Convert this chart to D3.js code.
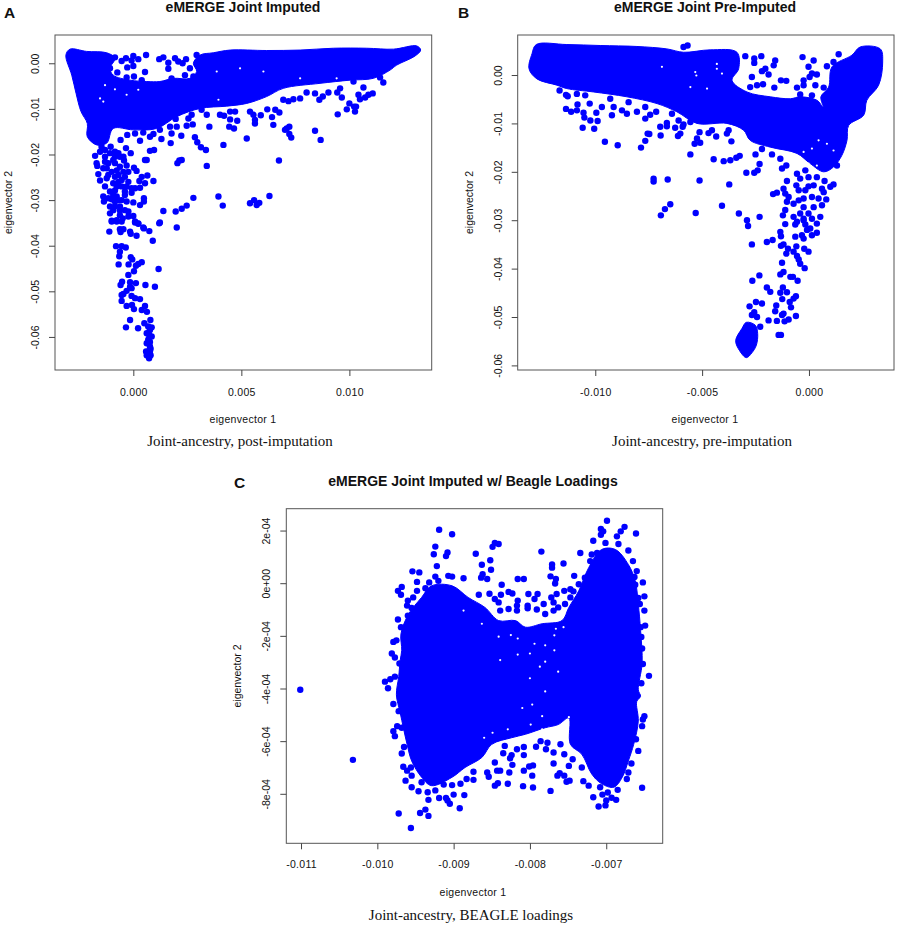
<!DOCTYPE html>
<html>
<head>
<meta charset="utf-8">
<style>
  html, body { margin: 0; padding: 0; background: #fff; }
  svg { display: block; }
  text { fill: #111; font-family: "Liberation Sans", Arial, sans-serif; }
</style>
<script src="https://cdn.jsdelivr.net/npm/d3@7"></script>
</head>
<body>
<svg id="chart" width="897" height="925"></svg>
<script>
// All values. Panel A and B in units of 1e-3, panel C x in 1e-3, y in 1e-4.
// The cores of the clouds are too overplotted to read single points, so each core
// is kept as an outline (its extent in data units), the readable points go on top,
// and the gaps lists are the small white specks seen inside the cores.

const xTicksA = [0, 5, 10];
const xLabelsA = ['0.000', '0.005', '0.010'];
const yTicksA = [0, -10, -20, -30, -40, -50, -60];
const yLabelsA = ['0.00', '-0.01', '-0.02', '-0.03', '-0.04', '-0.05', '-0.06'];
const coreA = [[-3.12,1.8],[-2.93,3.1],[-2.16,2.6],[-1.23,2.3],[-0.85,1.1],[-1.08,-1.1],[-0.93,-2.6],[-0.15,-3.7],[0.62,-4],[1.23,-4],[1.85,-3.3],[2.62,-3.3],[2.93,-1.8],[2.78,0],[3.09,1.8],[3.7,2.3],[4.48,2.9],[6.17,2.8],[7.72,2.9],[9.26,3.3],[10.8,3.3],[12.04,3.1],[13.12,3.8],[13.3,2.9],[13.04,1.6],[12.19,-0.4],[11.88,-1.5],[11.11,-3.3],[10.03,-3.7],[8.64,-4.4],[6.94,-5.5],[6.17,-7.3],[5.25,-8.8],[4.32,-9.4],[3.09,-9.9],[2.01,-11.7],[1.08,-14.3],[0,-14.6],[-0.93,-14.3],[-1.23,-17.5],[-1.7,-17.9],[-2.13,-16.1],[-2.13,-13.2],[-2.42,-10.6],[-2.65,-6.6],[-2.85,-2.6]];
const gapsA = [[3.94,-8],[4.94,-1.1],[6.02,-1.8],[3.86,-1.8],[-1.31,-4.8],[-0.85,-5.7],[-0.31,-6.9],[0.23,-5.8],[-1.54,-7.7],[-1.39,-8.4],[7.72,-3.3],[9.41,-3.3]];
const pointsA = [[-0.85,1.3],[-0.54,0.5],[-0.34,1.1],[0,1.6],[-0.08,0.6],[0.23,0.9],[0.59,1.8],[1.2,0.9],[1.39,1.3],[1.62,0.1],[1.62,-1.2],[1.93,1.1],[2.08,0.4],[2.28,0],[2.44,0.9],[2.62,-1.1],[2.93,1.8],[-1.08,-1.1],[-0.74,-2],[-0.28,-0.9],[0,-0.6],[0.54,-1.9],[-0.31,-3.1],[0.03,-2.9],[0.39,-3.7],[1.77,-3.3],[2.39,-2.6],[2.78,-2.9],
[1.96,-12.2],[2.55,-12.1],[2.7,-11.3],[1.7,-13.9],[2.01,-13.9],[2.47,-13.7],[2.75,-13.4],[3.52,-13.9],[3.4,-11.3],[3.16,-10.2],[4.01,-11.3],[4.2,-11.5],[4.48,-10.6],[4.71,-10.6],[4.48,-12.3],[4.81,-12.6],[4.44,-13.9],[4.66,-14.3],[5.25,-16.5],[5.4,-10.6],[5.56,-11.3],[5.63,-12.4],[5.63,-13.2],[5.9,-11.4],[6.2,-10.1],[6.42,-11.8],[6.48,-13.5],[6.57,-10.2],[6.76,-10.8],[6.94,-8],[7.18,-8.3],[7.41,-7.9],[7.72,-7.7],[8.02,-6.4],[8.41,-6.6],[8.61,-8],[8.77,-7.3],[9.03,-6.4],[9.44,-6.4],[9.65,-7.5],[9.46,-11.2],[9.88,-10.1],[10,-8.8],[10.22,-9.5],[10.31,-9.5],[10.26,-10.6],[10.42,-6.9],[10.65,-5.3],[10.49,-7.9],[10.73,-7.5],[10.88,-6.9],[11.08,-6.6],[9.57,-5.5],[10.19,-4],[11.42,-3.1],[11.57,-4.2],
[7.1,-14.3],[7.22,-13.9],[7.02,-14.6],[7.22,-15.5],[7.31,-16.3],[8.41,-14.8],[8.67,-16.8],[2.85,-16.2],[2.96,-17.3],[3.13,-18.4],[3.36,-19],[4.17,-17.9],[3.4,-22.5],[6.74,-21.3],[2.24,-21.2],[2.13,-21.3],[2.04,-21.9],[0.62,-21.2],[0.54,-21.2],[0.96,-19],[0.77,-19.2],[1.77,-15.4],[1.73,-17.5],[2.22,-15.9],[1.3,-16.6],[1.23,-14.6],[0.93,-15.5],[0.77,-16.1],[0.46,-15.2],[0.08,-15.4],[0.31,-17],[-0.28,-15.7],[-0.59,-16.8],[-0.34,-18.6],[-0.12,-19.7],
[-1.7,-21.9],[-1.67,-22.5],[-1.62,-24.3],[-1.54,-25.7],[-1.31,-27],[-1.23,-23],[-1.16,-21.9],[-0.93,-21.2],[-0.69,-19.7],[-1.05,-18.3],[-0.85,-19.4],[-1.77,-20.3],[-1.54,-19.4],[-1.31,-20.5],[-1.16,-24.5],[-0.85,-24.9],[-0.77,-23.5],[-0.62,-22.7],[-0.43,-21.3],[-0.31,-22.4],[-0.46,-20.5],[-0.85,-21.9],[-1.23,-25.2],[-0.93,-26.3],[-0.69,-26],[-0.39,-24.9],[-0.23,-26],[-0.54,-27],[-0.31,-27],[0.03,-22.9],[0.15,-23.6],[0.39,-24.9],[0.65,-24.6],[0.28,-25.8],[0.93,-25.8],[0.54,-26.3],[0.31,-27.3],[0.08,-27.4],[-0.08,-28.4],[-0.39,-28.9],[-0.85,-27.9],[-1.08,-28.1],[-1.39,-29.2],[-1.36,-30.3],[-1,-29.8],[-0.85,-30.3],[-1.08,-31.4],[-0.93,-32.2],[-0.62,-31.4],[-0.69,-30],[-0.31,-30.3],[0,-30.5],[0.31,-31.1],[0.49,-29.6],[0.49,-30.3],[-0.23,-32.5],[-0.62,-33.3],[-0.77,-34.4],[-1,-34.5],[-0.49,-34],[0,-33.5],[0.08,-34.7],[0.23,-35.2],[0.46,-36],[1.23,-34.9],[2.01,-36],[1.39,-32.4],[1.96,-32.5],[2.24,-31.9],[2.47,-31.2],[2.78,-29.5],[3.94,-29.2],[4.14,-31.2],[5.4,-30.7],[5.59,-30],[5.71,-31.1],[5.83,-30.6],[6.3,-29.1],
[-1.47,-18.3],[-1.31,-19],[-1.08,-19.7],[-0.85,-20.5],[-0.62,-20.5],[-1.31,-21.6],[-1.39,-23],[-1,-23.8],[-0.69,-24.5],[-0.46,-23.8],[-0.23,-23.8],[-0.54,-25.6],[-0.77,-27],[-0.39,-28.1],[-0.08,-27.4],[-0.93,-28.9],[-1.16,-29.6],[-0.77,-29.2],[-0.54,-30],[-0.85,-31.4],[-0.39,-32.2],[-0.62,-32.3],[-1.08,-32.9],[-0.23,-33.6],
[-1.11,-36.9],[-1,-34.7],[-0.77,-34.7],[-0.54,-34.7],[-0.62,-36.4],[-0.46,-36.4],[-0.59,-37],[-0.15,-36.9],[-0.12,-37.4],[0.08,-34.9],[0.23,-35.1],[0.15,-37.8],[0.49,-36.2],[0.74,-36.8],[0.9,-38.9],[1.2,-35.1],[-0.8,-40.1],[-0.54,-40.1],[-0.35,-40.4],[-0.62,-41.3],[-0.65,-42.3],[-0.12,-42.5],[-0.05,-43],[-0.68,-44.1],[-0.22,-44.1],[0.39,-43.6],[0.23,-44],[0.12,-44.4],[0.03,-45.6],[-0.23,-46.4],[1.17,-45.1],[-0.52,-47.9],[-0.59,-48.6],[-0.15,-48],[-0.15,-49],[0.12,-48.2],[0.56,-48.6],[1,-49],[-0.08,-49.3],[-0.31,-49.9],[-0.46,-50.6],[-0.54,-50.8],[-0.08,-51],[0.08,-51.5],[0.31,-51.7],[-0.54,-52.1],[-0.31,-53.2],[-0.06,-53],[0.03,-53.9],[0.39,-54.1],[0.54,-53.2],[0.63,-54.5],[-0.15,-56.3],[-0.34,-57.9],[0.22,-58.1],[0.79,-56.3],[0.51,-57],[0.69,-57.7],[0.85,-57.9],[0.62,-59.2],[0.85,-59.9],[0.77,-58.5],[0.62,-61.4],[0.77,-62.1],[0.69,-63.2],[0.62,-64],[0.8,-64],[0.73,-64.7],[0.77,-61.1],[0.77,-63.2],[0.59,-63.2],[0.8,-62.6],[0.69,-60.6],[0.73,-59.5]];

const xTicksB = [-10, -5, 0];
const xLabelsB = ['-0.010', '-0.005', '0.000'];
const yTicksB = [0, -10, -20, -30, -40, -50, -60];
const yLabelsB = ['0.00', '-0.01', '-0.02', '-0.03', '-0.04', '-0.05', '-0.06'];
const coreB = [[-13.1,1.3],[-12.96,4.4],[-12.76,6.3],[-11.33,6.3],[-9.77,6.1],[-8.05,5.9],[-6.65,5.4],[-5.87,4.7],[-4.62,5.2],[-3.37,4.7],[-3.29,1.3],[-3.6,-1.1],[-2.9,-3.5],[-1.81,-4.5],[-0.87,-4.9],[-0.41,-4.5],[0.37,-5.2],[0.66,-6.6],[0.56,-4.5],[0.92,-2.5],[1.08,1.7],[2.01,4.1],[2.4,5.8],[3.34,5.4],[3.45,2.7],[3.26,-2.1],[2.71,-5.2],[2.56,-8.3],[1.86,-10.4],[1.78,-13.5],[1.54,-16.6],[1.15,-19],[0.69,-20],[0.06,-18.3],[-0.56,-16.2],[-1.81,-14.9],[-2.75,-13.5],[-3.06,-11.4],[-3.84,-10],[-5.24,-10],[-6.18,-7.6],[-7.11,-5.9],[-8.52,-4.5],[-10.08,-3.5],[-11.33,-2.8],[-11.79,-2.1],[-12.73,-0.8]];
const coreB2 = [[-2.93,-51.1],[-2.51,-51.7],[-2.4,-53.4],[-2.46,-55.8],[-2.67,-57.4],[-2.93,-58.4],[-3.24,-57],[-3.43,-54.9],[-3.14,-52.4]];
const gapsB = [[-5.32,0.6],[-5.27,-0.1],[-4.31,2.3],[-4.31,1.3],[-5.55,-2.5],[-4.77,-2.8],[-6.88,1.7],[-4.07,0.3],[-0.25,-15.9],[0.14,-15.2],[0.45,-13.5],[0.84,-14.2],[1.15,-15.6],[0.37,-18.7],[-0.02,-18.3]];
const pointsB = [[-5.87,5.8],[-5.68,6.1],[-2.98,3.9],[-2.56,3.4],[-2.23,3.9],[-2.56,2.5],[-2.04,1.3],[-1.58,3],[-1.65,2],[-2.2,0.8],[-1.89,0.1],[-2.67,-0.4],[-2.43,-2.1],[-2.15,-1.9],[-1.62,-2.6],[-2.75,-2.5],[-1.31,-1.1],[-1.06,-1.2],[-0.56,-2.6],[-0.3,3.7],[0.22,3],[-0.02,1.7],[0.03,-0.4],[0.37,0.1],[-0.25,-2.1],[0.3,-2.1],[0.84,1.8],[1.39,4.3],[1.15,2.7],[-0.25,-1.1],[0.14,0.3],[0.69,-2.6],[-0.41,-4],[0.14,-4.2],
[-11.67,-3.2],[-11.37,-4.1],[-11.29,-4.4],[-10.86,-3.9],[-10.47,-4.2],[-11.37,-7],[-11.13,-7.6],[-10.83,-6.1],[-10.86,-7.3],[-10.55,-7.8],[-10.51,-8.8],[-10.23,-9.4],[-10.59,-10.9],[-10.05,-11.1],[-9.89,-9.5],[-9.95,-7.8],[-10.26,-5.9],[-9.69,-6.6],[-9.3,-4.9],[-9.14,-6.6],[-9.22,-8.3],[-8.75,-7.3],[-8.52,-8],[-8.44,-5.6],[-8.05,-7.6],[-7.66,-6.6],[-7.15,-7.6],[-7.43,-8.2],[-7.66,-9],[-6.96,-10.7],[-6.65,-9.9],[-6.65,-10.6],[-6.94,-12.5],[-7.55,-12.1],[-7.66,-13.6],[-7.47,-12.2],[-7.86,-15],[-8.95,-14.5],[-9.55,-13.8],[-6.26,-10.9],[-5.91,-10.7],[-5.87,-10.2],[-6.02,-12.1],[-6.13,-12.6],[-6.41,-8],[-6.1,-9.4],[-5.55,-9.7],
[-5.24,-13.1],[-5.35,-14.2],[-5.09,-14],[-5.12,-11.8],[-4.7,-12],[-4.54,-11.4],[-4.34,-12.7],[-3.84,-12.1],[-3.63,-13.7],[-3.76,-11.4],[-5.55,-16.4],[-4.46,-17.4],[-3.99,-17.8],[-3.68,-17.6],[-3.4,-17.1],[-3.24,-16.7],[-2.5,-16.4],[-2.31,-18.4],[-2.93,-20.2],[-2.56,-20.2],[-2.4,-19.7],[-1.34,-17.3],[-1.26,-19.3],[-1.06,-18.7],[-1.73,-16.4],[-2.2,-15.3],
[-7.27,-21.4],[-7.27,-22],[-6.61,-21.6],[-5.12,-21.8],[-3.73,-22.6],[-6.49,-26.7],[-6.74,-27.7],[-6.93,-29],[-5.3,-28.5],[-4.07,-27],[-3.28,-28.6],[-2.9,-30],[-2.31,-29.3],
[-1.03,-21.9],[-1.68,-24.6],[-1.5,-24.3],[-1.19,-23.5],[-1.11,-24.5],[-0.95,-25.2],[-1.03,-26.2],[-0.56,-20.4],[-0.41,-21.4],[-0.02,-21.1],[0.37,-21.1],[-0.59,-22.8],[-0.48,-23.8],[-0.02,-23],[0.22,-22.8],[-0.17,-23.8],[0.61,-23.5],[0.73,-21.9],[0.69,-24.2],[1.15,-22.6],[1,-23.1],[0.81,-25.7],[0.61,-26.9],[0.45,-25.5],[0.14,-25.2],[-0.25,-25.5],[-0.48,-25.9],[-0.72,-26.6],[-0.25,-27.3],[0.22,-27.3],[-0.02,-28.6],[-0.41,-28.6],[-1.11,-27.9],[-1.22,-29],[-0.72,-29.3],[-0.25,-29.7],[0.14,-29.7],[0.53,-29.3],[-0.64,-30.9],[-0.17,-30.9],[0.37,-30.7],[-1.11,-30.8],[-0.17,-19.7],[1.31,-18.7],
[-2.85,-31.2],[-2.67,-35],[-1.97,-34.5],[-1.7,-34.1],[-1.34,-32.4],[-1.31,-33.3],[-1.31,-35.3],[-1.19,-35],[-0.98,-35.9],[-1.06,-36.9],[-0.72,-36.5],[-0.59,-35.4],[-0.56,-37.4],[-0.48,-38.1],[-0.41,-39],[-0.2,-39.9],[-0.22,-35.9],[-0.02,-36.5],[-1.26,-38.8],[-1.19,-40.7],[-1.34,-41.2],[-0.87,-41.7],[-0.75,-41.7],[-0.53,-42.5],[-2.32,-41.4],[-2.65,-42.5],[-1.97,-43.9],[-1.81,-44.8],[-1.34,-45],[-1.22,-43.9],[-1.03,-44.9],[-1.25,-46.3],[-0.61,-45.7],[-0.72,-46.2],[-0.9,-46.9],[-0.84,-48],[-2.48,-46.9],[-2.2,-47.2],[-2.78,-47.8],[-1.53,-47.6],[-1.58,-48.8],[-1.19,-49.3],[-1.26,-49.6],[-0.61,-49.8],[-0.95,-50.5],[-1.14,-50.9],[-1.5,-50.8],[-1.89,-50.7],[-1.42,-53.7],[-1.31,-53.7],[-2.28,-52],[-2.43,-50],[-2.67,-49.6],[-2.56,-49],[-0.64,-33.4],[-0.33,-33.1],[-0.09,-32],[0.14,-33.1],[0.37,-32.6],[-0.56,-30.3],[-0.25,-30],[0.06,-31.7],[-0.25,-33.8]];

const xTicksC = [-11, -10, -9, -8, -7];
const xLabelsC = ['-0.011', '-0.010', '-0.009', '-0.008', '-0.007'];
const yTicksC = [2, 0, -2, -4, -6, -8];
const yLabelsC = ['2e-04', '0e+00', '-2e-04', '-4e-04', '-6e-04', '-8e-04'];
const coreC = [[-9.7,-2.92],[-9.68,-2.55],[-9.69,-1.92],[-9.59,-1.17],[-9.42,-0.54],[-9.29,-0.1],[-9.02,-0.1],[-8.81,-0.54],[-8.59,-0.92],[-8.41,-1.42],[-8.19,-1.42],[-8.06,-1.67],[-7.84,-1.54],[-7.58,-1.42],[-7.49,-0.92],[-7.36,-0.29],[-7.23,0.59],[-7.06,1.28],[-6.88,1.28],[-6.71,0.71],[-6.62,0.09],[-6.58,-0.79],[-6.55,-1.79],[-6.53,-3.05],[-6.58,-4.05],[-6.55,-4.3],[-6.6,-4.49],[-6.58,-5.24],[-6.64,-6.12],[-6.71,-6.75],[-6.79,-7.37],[-6.9,-7.75],[-7.06,-7.62],[-7.19,-7.25],[-7.32,-6.5],[-7.47,-6.12],[-7.49,-5.12],[-7.63,-5.37],[-7.8,-5.49],[-8.06,-5.74],[-8.24,-5.87],[-8.5,-6.12],[-8.63,-6.62],[-8.85,-7],[-9.02,-7.37],[-9.29,-7.69],[-9.42,-7.37],[-9.55,-6.75],[-9.61,-6.12],[-9.7,-4.93],[-9.75,-4.24],[-9.72,-3.55]];
const gapsC = [[-8.25,-1.97],[-8.16,-2.1],[-8.41,-2.03],[-7.94,-2.3],[-7.8,-2.36],[-7.68,-2.55],[-8.16,-2.71],[-8.0,-2.67],[-8.39,-2.92],[-7.8,-2.98],[-7.63,-3.36],[-8.0,-3.61],[-7.87,-3.17],[-7.56,-1.67],[-7.68,-1.98],[-8.87,-1.04],[-8.63,-1.54],[-7.66,-1.73],[-7.8,-4.11],[-8.1,-4.74],[-7.97,-4.61],[-7.84,-5.05],[-7.49,-5.09],[-7.99,-5.37],[-8.29,-5.55],[-8.49,-5.68],[-8.6,-5.87],[-7.63,-5.62],[-7.84,-5.55]];
const pointsC = [[-9.19,2.03],[-9.02,1.86],[-9.24,1.39],[-9.26,1.1],[-9.1,1.03],[-9.08,1.17],[-9.22,0.65],[-9.54,0.45],[-9.45,0.41],[-9.24,0.25],[-9.07,0.28],[-9.02,0.25],[-8.87,0.19],[-9.2,0.09],[-9.48,0.05],[-9.32,0.03],[-9.48,-0.29],[-9.37,-0.19],[-9.73,-0.29],[-9.68,-0.14],[-9.69,-0.44],[-9.6,-0.66],[-9.53,-0.54],[-9.61,-0.85],[-9.55,-0.94],[-9.6,-1.23],[-9.73,-1.38],[-9.69,-1.67],[-9.79,-2.23],[-9.75,-2.17],[-9.81,-2.67],[-9.77,-2.82],[-9.71,-3.05],[-9.9,-3.74],[-9.83,-3.65],[-9.77,-3.55],[-9.86,-3.99],
[-8.71,1.12],[-8.63,0.7],[-8.52,0.87],[-8.51,0.51],[-8.62,0.34],[-8.64,0.21],[-8.56,0.16],[-8.49,1.38],[-8.46,1.53],[-8.41,1.49],[-8.37,-0.06],[-8.67,-0.44],[-8.53,-0.4],[-8.38,-0.44],[-8.28,-0.33],[-8.23,-0.39],[-8.46,-0.6],[-8.41,-0.73],[-8.28,-0.98],[-8.39,-1.04],[-8.16,-0.66],[-8.17,-0.85],[-8.17,-1.04],[-8.16,0.16],[-8.08,0.16],[-7.85,1.2],[-8.02,-0.41],[-8.03,-0.85],[-8.03,-0.95],[-7.9,-0.41],[-7.94,-0.6],[-7.91,-1],[-7.82,-0.79],[-7.8,-1.17],
[-7.71,0.71],[-7.71,0.59],[-7.56,0.75],[-7.73,0.26],[-7.66,0.16],[-7.67,-0.01],[-7.42,0.28],[-7.34,1.15],[-7.55,-0.29],[-7.47,-0.23],[-7.43,-0.31],[-7.47,-0.54],[-7.65,-0.41],[-7.72,-0.54],[-7.69,-0.73],[-7.54,-0.79],[-7.63,-0.92],[-7.69,-1.04],[-7.36,-0.04],[-7.28,0.21],[-7.21,0.84],[-7.17,1.61],[-7.07,2.06],[-7.04,1.97],[-7.07,1.84],[-6.99,2.37],[-6.76,2.14],[-6.81,1.97],[-6.86,1.78],[-6.61,1.89],[-6.84,1.49],[-6.71,1.24],[-7.19,1.09],[-7.12,1.15],[-7.01,1.53],[-6.65,0.84],[-6.6,0.46],[-6.63,0.24],[-6.52,0.03],[-6.62,-0.06],[-6.5,-0.5],[-6.58,-0.56],[-6.5,-1.04],[-6.56,-0.79],[-6.49,-1.61],[-6.55,-1.67],[-6.54,-2.04],[-6.53,-2.48],[-6.52,-3.07],[-6.44,-3.52],[-6.54,-3.8],
[-11.01,-4.05],[-10.32,-6.71],
[-9.79,-4.59],[-9.72,-4.86],[-9.79,-5.62],[-9.74,-5.43],[-9.77,-5.81],[-9.68,-5.49],[-9.65,-6.22],[-9.68,-6.47],[-9.66,-6.97],[-9.61,-7.12],[-9.63,-7.5],[-9.55,-7.75],[-9.55,-7.31],[-9.56,-7],[-9.46,-7.9],[-9.42,-7.56],[-9.34,-7.94],[-9.33,-8.23],[-9.24,-7.87],[-9.19,-8.16],[-9.13,-7.65],[-9.1,-8.16],[-9.08,-8.25],[-9.05,-8.38],[-9,-8.03],[-9.02,-7.67],[-8.91,-7.62],[-8.86,-8.05],[-8.92,-8.55],[-8.83,-7.44],[-8.74,-7.16],[-8.74,-7.47],[-9.72,-8.75],[-9.44,-8.73],[-9.37,-8.6],[-9.33,-8.84],[-9.56,-9.3],
[-8.56,-7.19],[-8.54,-7.35],[-8.43,-7.12],[-8.39,-7.12],[-8.46,-7.69],[-8.42,-7.6],[-8.29,-7.62],[-8.27,-7.19],[-8.09,-7.71],[-7.96,-7.76],[-8.08,-7.12],[-8.01,-6.96],[-7.96,-6.92],[-7.97,-7.31],[-7.73,-7.89],[-8.46,-6.81],[-8.35,-6.46],[-8.26,-6.65],[-8.24,-6.53],[-8.23,-6.9],[-8.33,-6.18],[-8.17,-6.31],[-8.08,-6.22],[-8.08,-6.53],[-7.92,-6.21],[-7.86,-6],[-7.79,-6.31],[-7.77,-6.06],[-7.69,-6.43],[-7.69,-6.85],[-7.64,-7.31],[-7.61,-7.22],[-7.55,-7.31],[-7.52,-7.54],[-7.48,-7.5],[-7.49,-6.94],[-7.44,-6.69],[-7.55,-6.5],[-7.6,-6.12],[-7.3,-7.52],[-7.23,-7.69],[-7.17,-8.13],[-7.1,-8.48],[-7.05,-8.03],[-7.01,-8.44],[-6.98,-7.95],[-7,-8.25],[-6.93,-8.15],[-6.87,-8.23],[-6.85,-7.85],[-6.73,-7.44],[-6.71,-7.19],[-6.67,-6.85],[-6.58,-6.37],[-6.61,-5.93],[-6.53,-7.77],[-6.53,-5.43],[-6.5,-5.05],[-6.52,-5.18],[-7.32,-7],[-7.12,-7.31],[-7.08,-7.75]];

const BLUE = '#0000ff';
const svg = d3.select('#chart');

function drawPanel(p) {
	const x = d3.scaleLinear().domain(p.xDomain).range([p.left, p.right]);
	const y = d3.scaleLinear().domain(p.yDomain).range([p.bottom, p.top]);

	const line = d3.line().x(d => x(d[0])).y(d => y(d[1])).curve(d3.curveCatmullRomClosed.alpha(0.5));
	p.cores.forEach(core => {
		svg.append('path').attr('d', line(core))
			.attr('fill', BLUE).attr('stroke', BLUE).attr('stroke-width', 1).attr('stroke-linejoin', 'round');
	});
	svg.append('g').selectAll('circle').data(p.gaps).enter().append('circle')
		.attr('cx', d => x(d[0])).attr('cy', d => y(d[1])).attr('r', 1.1).attr('fill', '#fff');
	svg.append('g').selectAll('circle').data(p.points).enter().append('circle')
		.attr('cx', d => x(d[0])).attr('cy', d => y(d[1])).attr('r', 3.2).attr('fill', BLUE);

	// R style box
	svg.append('rect').attr('x', p.left).attr('y', p.top)
		.attr('width', p.right - p.left).attr('height', p.bottom - p.top)
		.attr('fill', 'none').attr('stroke', '#555').attr('stroke-width', 1);

	const xAxis = d3.axisBottom(x).tickValues(p.xTicks).tickSize(6)
		.tickFormat((d, i) => p.xLabels[i]);
	const gx = svg.append('g').attr('transform', `translate(0,${p.bottom})`).call(xAxis);
	gx.select('.domain').remove();
	gx.selectAll('line').attr('stroke', '#444');
	gx.selectAll('text').attr('y', p.xTickDy).attr('dy', null).attr('font-size', 10.5)
		.attr('font-family', '"Liberation Sans", sans-serif').style('letter-spacing', '0.3px');

	const yAxis = d3.axisLeft(y).tickValues(p.yTicks).tickSize(6)
		.tickFormat((d, i) => p.yLabels[i]);
	const gy = svg.append('g').attr('transform', `translate(${p.left},0)`).call(yAxis);
	gy.select('.domain').remove();
	gy.selectAll('line').attr('stroke', '#444');
	gy.selectAll('text')
		.attr('x', null).attr('dy', null)
		.attr('transform', `translate(${-p.yTickDx},0) rotate(-90)`)
		.attr('text-anchor', 'middle').attr('font-size', 10.5)
		.attr('font-family', '"Liberation Sans", sans-serif');

	svg.append('text').attr('x', p.titleX).attr('y', p.titleY).attr('text-anchor', 'middle')
		.attr('font-size', 14).attr('font-weight', 'bold').text(p.title);
	svg.append('text').attr('x', p.letterX).attr('y', p.letterY)
		.attr('font-size', 15.5).attr('font-weight', 'bold').text(p.letter);
	svg.append('text').attr('x', p.titleX).attr('y', p.xTitleY).attr('text-anchor', 'middle')
		.attr('font-size', 10.5).style('letter-spacing', '0.3px').text('eigenvector 1');
	svg.append('text').attr('transform', `translate(${p.yTitleX},${(p.top + p.bottom) / 2}) rotate(-90)`)
		.attr('text-anchor', 'middle').attr('font-size', 10.5).text('eigenvector 2');
	svg.append('text').attr('x', p.captionX).attr('y', p.captionY).attr('text-anchor', 'middle')
		.attr('font-size', 15).style('font-family', '"Liberation Serif", serif').text(p.caption);
}

drawPanel({
	letter: 'A', title: 'eMERGE Joint Imputed', caption: 'Joint-ancestry, post-imputation',
	left: 55, right: 431.7, top: 35, bottom: 370,
	xDomain: [-3.625, 13.81], yDomain: [-67.25, 6.2],
	xTicks: xTicksA, xLabels: xLabelsA, yTicks: yTicksA, yLabels: yLabelsA,
	cores: [coreA], gaps: gapsA, points: pointsA,
	titleX: 243, titleY: 12, letterX: 4, letterY: 18, xTitleY: 423, yTitleX: 12,
	xTickDy: 25.5, yTickDx: 16, captionX: 240, captionY: 446
});

drawPanel({
	letter: 'B', title: 'eMERGE Joint Pre-Imputed', caption: 'Joint-ancestry, pre-imputation',
	left: 517.7, right: 894, top: 35, bottom: 370,
	xDomain: [-13.63, 3.98], yDomain: [-60.95, 8.27],
	xTicks: xTicksB, xLabels: xLabelsB, yTicks: yTicksB, yLabels: yLabelsB,
	cores: [coreB, coreB2], gaps: gapsB, points: pointsB,
	titleX: 705, titleY: 12, letterX: 458, letterY: 18, xTitleY: 423, yTitleX: 473,
	xTickDy: 25.5, yTickDx: 16, captionX: 702, captionY: 446
});

drawPanel({
	letter: 'C', title: 'eMERGE Joint Imputed w/ Beagle Loadings', caption: 'Joint-ancestry, BEAGLE loadings',
	left: 286.3, right: 662.7, top: 508.7, bottom: 843.3,
	xDomain: [-11.193, -6.26], yDomain: [-9.88, 2.83],
	xTicks: xTicksC, xLabels: xLabelsC, yTicks: yTicksC, yLabels: yLabelsC,
	cores: [coreC], gaps: gapsC, points: pointsC,
	titleX: 473, titleY: 485.7, letterX: 234, letterY: 488, xTitleY: 896, yTitleX: 241,
	xTickDy: 24.5, yTickDx: 16, captionX: 471, captionY: 920
});
</script>
</body>
</html>
